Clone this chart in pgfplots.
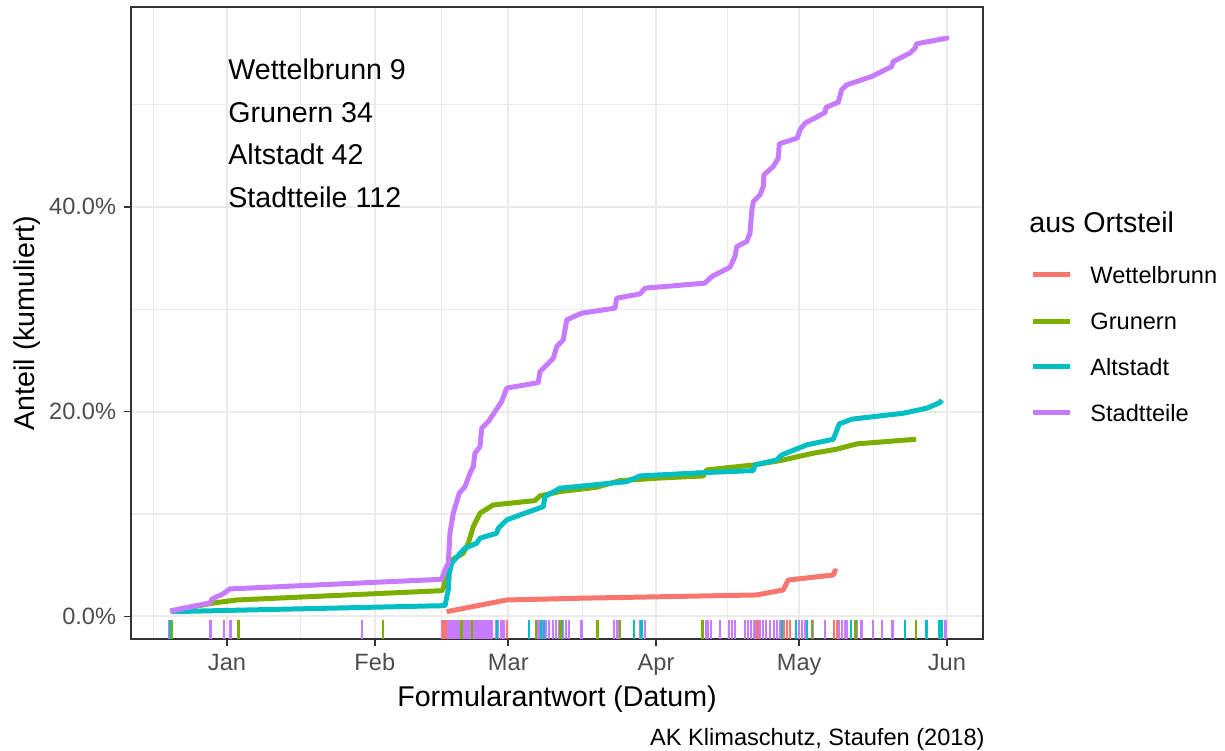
\documentclass[border=0pt]{standalone}
\usepackage{fontspec}
\setmainfont{Liberation Sans}
\usepackage{pgfplots}
\pgfplotsset{compat=1.18}
\definecolor{cW}{HTML}{F8766D}
\definecolor{cG}{HTML}{7CAE00}
\definecolor{cA}{HTML}{00BFC4}
\definecolor{cS}{HTML}{C77CFF}
\definecolor{grid92}{HTML}{EBEBEB}
\definecolor{grey20}{HTML}{333333}
\definecolor{grey30}{HTML}{4D4D4D}
\newcommand\fs{\fontsize{11.8pt}{14pt}\selectfont}
\newcommand\fb{\fontsize{14.3pt}{17pt}\selectfont}
\begin{document}
\begin{tikzpicture}
\useasboundingbox (-65.5pt,-55.5pt) rectangle (547pt,319.5pt);
\begin{axis}[
  scale only axis, width=426pt, height=316pt,
  xmin=-20.13, xmax=158.56, ymin=-2.2, ymax=59.5,
  axis line style={grey20, line width=0.8pt},
  xtick={0,31,59,90,120,151}, xticklabels={Jan,Feb,Mar,Apr,May,Jun},
  ytick={0,20,40}, yticklabels={0.0\%,20.0\%,40.0\%},
  minor xtick={-15.5,15.5,45,74.5,105,135.5}, minor ytick={10,30,50},
  grid=both,
  major grid style={grid92, line width=1pt},
  minor grid style={grid92, line width=0.55pt},
  tick align=outside, tick pos=left,
  major tick length=3.5pt, minor tick length=0pt,
  every tick/.style={grey20, line width=0.8pt},
  tick label style={font=\fs, text=grey30},
  xticklabel style={anchor=base, inner sep=0pt, yshift=-12pt},
  yticklabel style={anchor=east, inner sep=0pt, xshift=-3.75pt},
  clip=true,
]
% Wettelbrunn
\addplot[cW, line width=2.5pt, line join=round] coordinates {
(46.08,0.47) (58.66,1.61) (74.04,1.78) (111.09,2.10) (116.67,2.59) (117.72,3.56) (127.16,4.05) (127.52,4.47) (128.00,4.38)
};
% Grunern
\addplot[cG, line width=2.5pt, line join=round] coordinates {
(-11.54,0.54) (-3.21,1.29) (2.10,1.61) (45.09,2.52) (45.36,2.75) (45.72,3.40) (47.13,5.52) (49.56,6.17) (50.61,7.15) (51.66,8.77) (53.06,10.08) (55.85,10.89) (64.60,11.31) (65.65,11.77) (69.84,12.19) (74.04,12.42) (77.54,12.62) (82.42,13.26) (90.12,13.50) (99.90,13.72) (100.61,14.31) (110.38,14.79) (115.98,15.21) (122.97,15.94) (127.87,16.33) (132.07,16.85) (144.51,17.30)
};
% Altstadt
\addplot[cA, line width=2.5pt, line join=round] coordinates {
(-11.60,0.47) (45.03,1.05) (45.72,1.05) (46.41,2.59) (46.62,4.22) (47.13,5.20) (49.22,6.33) (49.92,6.66) (52.37,7.15) (53.06,7.64) (56.56,8.13) (56.90,8.61) (58.66,9.42) (61.45,9.91) (66.34,10.72) (66.69,11.70) (69.84,12.52) (73.34,12.68) (83.83,13.16) (86.62,13.72) (99.90,14.04) (110.38,14.24) (110.74,14.79) (115.29,15.28) (116.34,15.77) (121.58,16.75) (127.16,17.30) (128.42,18.80) (131.02,19.26) (141.84,19.84) (146.75,20.33) (149.54,20.88) (149.90,21.14)
};
% Stadtteile
\addplot[cS, line width=2.5pt, line join=round] coordinates {
(-11.95,0.54) (-3.57,1.32) (-3.15,1.71) (-0.84,2.20) (0.63,2.69) (45.03,3.63) (45.72,4.54) (46.41,5.20) (46.77,8.13) (47.46,10.08) (48.72,12.03) (49.92,12.68) (50.97,13.98) (51.66,14.63) (52.01,15.94) (53.06,16.58) (53.42,18.38) (54.80,19.02) (57.61,20.98) (58.66,22.29) (65.29,22.83) (65.65,23.91) (68.44,25.21) (69.15,26.35) (70.53,27.00) (71.25,28.96) (74.39,29.61) (81.38,30.10) (81.73,31.07) (86.62,31.49) (87.67,32.05) (100.25,32.54) (101.66,33.18) (105.50,34.10) (106.54,35.14) (106.90,36.11) (109.00,36.60) (109.69,37.42) (110.05,39.53) (110.38,40.51) (111.79,41.16) (112.48,41.97) (112.63,43.12) (114.58,43.93) (115.63,44.75) (115.84,46.14) (119.61,46.70) (120.18,47.51) (121.23,48.16) (123.68,48.75) (125.42,49.20) (125.63,49.69) (128.21,50.21) (128.92,51.42) (129.97,51.90) (135.21,52.71) (139.41,53.69) (139.74,54.18) (143.24,55.00) (144.30,55.49) (144.65,55.91) (150.94,56.46) (150.94,56.69)
};
% rugs
\pgfplotsset{rug/.style={only marks, mark=|, mark size=4.75pt, mark options={line width=1.3pt}}}
\addplot[rug, cS] coordinates {
(-12.06,-1.27) (-3.46,-1.27) (-0.63,-1.27) (0.73,-1.27) (28.31,-1.27)
(45.2,-1.27) (45.6,-1.27) (46.0,-1.27) (46.5,-1.27) (46.9,-1.27) (47.3,-1.27) (47.7,-1.27) (48.2,-1.27) (48.6,-1.27) (49.4,-1.27) (49.8,-1.27) (50.2,-1.27) (50.6,-1.27) (51.0,-1.27) (51.4,-1.27) (51.8,-1.27) (52.2,-1.27) (52.6,-1.27) (53.0,-1.27) (53.4,-1.27) (53.8,-1.27) (54.4,-1.27) (54.8,-1.27) (55.3,-1.27) (55.6,-1.27) (56.4,-1.27) (56.8,-1.27) (57.6,-1.27) (58.0,-1.27)
(65.23,-1.27) (65.65,-1.27) (66.28,-1.27) (66.90,-1.27) (67.53,-1.27) (68.37,-1.27) (69.00,-1.27) (69.63,-1.27) (70.47,-1.27) (71.10,-1.27) (71.73,-1.27) (74.39,-1.27) (81.17,-1.27) (81.80,-1.27) (82.21,-1.27) (86.62,-1.27) (87.67,-1.27)
(100.46,-1.27) (100.88,-1.27) (101.51,-1.27) (103.40,-1.27) (105.29,-1.27) (105.91,-1.27) (106.54,-1.27) (108.64,-1.27) (109.27,-1.27) (109.90,-1.27) (110.53,-1.27) (110.95,-1.27) (111.79,-1.27) (112.42,-1.27) (113.05,-1.27) (113.88,-1.27) (114.72,-1.27) (115.35,-1.27) (115.98,-1.27) (119.34,-1.27) (119.97,-1.27) (120.60,-1.27) (121.23,-1.27) (122.90,-1.27) (125.42,-1.27) (128.36,-1.27) (128.99,-1.27) (129.61,-1.27) (130.03,-1.27) (132.13,-1.27) (133.12,-1.27) (135.49,-1.27) (137.37,-1.27) (139.62,-1.27) (144.51,-1.27) (150.73,-1.27)
};
\addplot[rug, cA] coordinates {
(-11.95,-1.27) (56.63,-1.27) (63.34,-1.27) (65.86,-1.27) (66.48,-1.27) (70.20,-1.27) (85.36,-1.27) (86.98,-1.27) (116.40,-1.27) (119.34,-1.27) (121.64,-1.27) (130.87,-1.27) (142.20,-1.27) (146.75,-1.27) (149.33,-1.27) (149.89,-1.27)
};
\addplot[rug, cG] coordinates {
(-11.54,-1.27) (2.41,-1.27) (32.72,-1.27) (49.22,-1.27) (51.38,-1.27) (64.81,-1.27) (69.99,-1.27) (77.75,-1.27) (82.42,-1.27) (99.77,-1.27) (122.69,-1.27) (131.86,-1.27) (144.51,-1.27)
};
\addplot[rug, cW] coordinates {
(45.30,-1.27) (45.83,-1.27) (58.72,-1.27) (111.30,-1.27) (116.82,-1.27) (117.45,-1.27) (118.08,-1.27) (127.31,-1.27) (127.94,-1.27)
};
\end{axis}
% annotations
\node[font=\fb, anchor=base west, inner sep=0pt] at (48.5pt,279.5pt) {Wettelbrunn 9};
\node[font=\fb, anchor=base west, inner sep=0pt] at (48.5pt,258.25pt) {Grunern 34};
\node[font=\fb, anchor=base west, inner sep=0pt] at (48.5pt,237pt) {Altstadt 42};
\node[font=\fb, anchor=base west, inner sep=0pt] at (48.5pt,215.75pt) {Stadtteile 112};
% axis titles
\node[font=\fb, anchor=base, inner sep=0pt] at (213pt,-33.5pt) {Formularantwort (Datum)};
\node[font=\fb, anchor=base, inner sep=0pt, rotate=90] at (-48pt,158pt) {Anteil (kumuliert)};
\node[font=\fs, anchor=base east, inner sep=0pt] at (427pt,-53.25pt) {AK Klimaschutz, Staufen (2018)};
% legend
\node[font=\fb, anchor=base west, inner sep=0pt] at (449pt,203pt) {aus Ortsteil};
\draw[cW, line width=2.5pt] (451pt,182pt) -- (469.5pt,182pt);
\draw[cG, line width=2.5pt] (451pt,158.85pt) -- (469.5pt,158.85pt);
\draw[cA, line width=2.5pt] (451pt,136pt) -- (469.5pt,136pt);
\draw[cS, line width=2.5pt] (451pt,113pt) -- (469.5pt,113pt);
\node[font=\fs, anchor=base west, inner sep=0pt] at (479.5pt,177.5pt) {Wettelbrunn};
\node[font=\fs, anchor=base west, inner sep=0pt] at (479.5pt,154.55pt) {Grunern};
\node[font=\fs, anchor=base west, inner sep=0pt] at (479.5pt,131.6pt) {Altstadt};
\node[font=\fs, anchor=base west, inner sep=0pt] at (479.5pt,108.65pt) {Stadtteile};
\end{tikzpicture}
\end{document}
